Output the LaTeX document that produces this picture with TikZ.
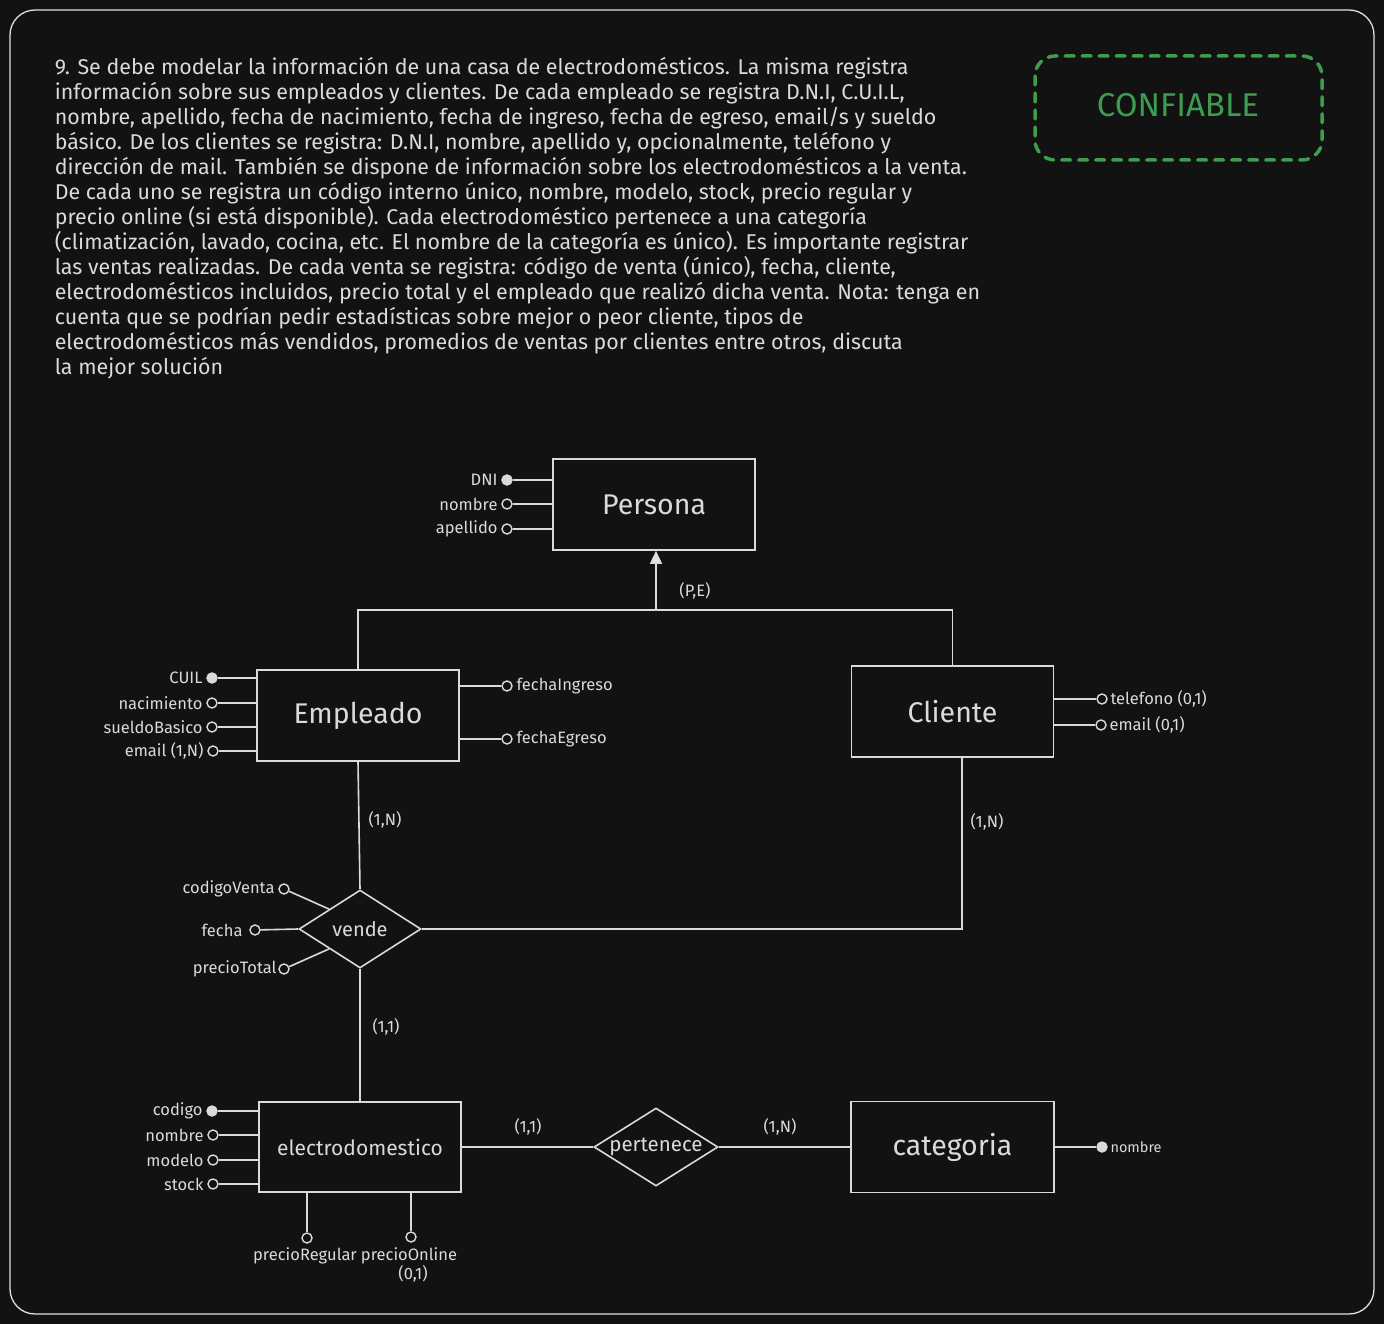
\documentclass[tikz,border=0pt]{standalone}
\usepackage{fontspec}
\setmainfont{Fira Sans}
\usetikzlibrary{arrows.meta,shapes.geometric,calc}
\definecolor{bg}{HTML}{121212}
\definecolor{ink}{HTML}{DADADA}
\definecolor{okgreen}{HTML}{3E9B4F}

\begin{document}
\begin{tikzpicture}[x=1pt,y=-1pt,line width=1.6pt,
  entity/.style={draw=ink,fill=bg,rectangle,minimum width=202pt,minimum height=91pt,
    inner sep=0pt,text=ink,font=\fontsize{28.5}{32}\selectfont},
  rel/.style={draw=ink,fill=bg,diamond,aspect=1.6,inner sep=0pt,text=ink},
  keyattr/.style={circle,draw=ink,fill=ink,inner sep=0pt,minimum size=10pt,line width=1.4pt},
  attr/.style={circle,draw=ink,fill=bg,inner sep=0pt,minimum size=10pt,line width=1.4pt},
  lbl/.style={text=ink,inner sep=3pt,font=\fontsize{16.5}{19}\selectfont},
  card/.style={text=ink,inner sep=0pt,font=\fontsize{16.5}{19}\selectfont},
  link/.style={draw=ink,line width=1.6pt}]

% canvas and outer frame
\fill[bg] (0,0) rectangle (1384,1324);
\useasboundingbox (0,0) rectangle (1384,1324);
\draw[ink!85,line width=1.3pt,rounded corners=25pt] (10,10) rectangle (1374,1314);

% statement
\node[anchor=north west,align=left,text=ink,inner sep=0pt,
  font=\fontsize{21.4}{25}\selectfont] (enunciado) at (54,57) {%
9. Se debe modelar la información de una casa de electrodomésticos. La misma registra\\
información sobre sus empleados y clientes. De cada empleado se registra D.N.I, C.U.I.L,\\
nombre, apellido, fecha de nacimiento, fecha de ingreso, fecha de egreso, email/s y sueldo\\
básico. De los clientes se registra: D.N.I, nombre, apellido y, opcionalmente, teléfono y\\
dirección de mail. También se dispone de información sobre los electrodomésticos a la venta.\\
De cada uno se registra un código interno único, nombre, modelo, stock, precio regular y\\
precio online (si está disponible). Cada electrodoméstico pertenece a una categoría\\
(climatización, lavado, cocina, etc. El nombre de la categoría es único). Es importante registrar\\
las ventas realizadas. De cada venta se registra: código de venta (único), fecha, cliente,\\
electrodomésticos incluidos, precio total y el empleado que realizó dicha venta. Nota: tenga en\\
cuenta que se podrían pedir estadísticas sobre mejor o peor cliente, tipos de\\
electrodomésticos más vendidos, promedios de ventas por clientes entre otros, discuta\\
la mejor solución};

% status badge
\draw[okgreen,line width=3.5pt,dash pattern=on 9pt off 8pt,line cap=round,rounded corners=20pt]
  (1035,56) rectangle (1322,160);
\node[text=okgreen,font=\fontsize{33}{36}\selectfont] (estado) at (1178,105) {CONFIABLE};

% entities
\node[entity] (per) at (654,504.5) {Persona};
\node[entity] (emp) at (358,715.5) {Empleado};
\node[entity] (cli) at (952.5,711.5) {Cliente};
\node[entity,minimum height=90pt,font=\fontsize{21}{24}\selectfont] (elec) at (360,1147) {electrodomestico};
\node[entity,minimum width=203pt] (cat) at (952.5,1147) {categoria};

% relationships
\node[rel,minimum width=122pt,minimum height=78pt,font=\fontsize{20}{23}\selectfont] (vende) at (360,929) {vende};
\node[rel,minimum width=124pt,minimum height=78pt,font=\fontsize{20.5}{23}\selectfont] (pert) at (656,1147) {pertenece};

% generalization Persona <- {Empleado, Cliente}
\coordinate (isa) at (656,610);
\draw[link] (emp.north) -- (emp.north |- isa) -- (cli.north |- isa) -- (cli.north);
\draw[link,-{Triangle[width=12pt,length=13pt,fill=ink!75]}] (isa) -- (per.south -| isa);
\node[card] (pe) at (695,591) {(P,E)};

% Persona attributes
\node[keyattr] (pdni) at (507,480) {};
\node[attr] (pnom) at (507,504) {};
\node[attr] (pape) at (507,529) {};
\draw[link] (pdni) -- (per.west |- pdni);
\draw[link] (pnom) -- (per.west |- pnom);
\draw[link] (pape) -- (per.west |- pape);
\node[lbl,anchor=east] at (pdni.west) {DNI};
\node[lbl,anchor=east] at (pnom.west) {nombre};
\node[lbl,anchor=east] at (pape.west) {apellido};

% Empleado attributes
\node[keyattr] (ecuil) at (212,678) {};
\node[attr] (enac) at (212,703) {};
\node[attr] (esue) at (212,727) {};
\node[attr] (email) at (213,751) {};
\node[attr] (eing) at (507,686) {};
\node[attr] (eegr) at (507,739) {};
\draw[link] (ecuil) -- (emp.west |- ecuil);
\draw[link] (enac) -- (emp.west |- enac);
\draw[link] (esue) -- (emp.west |- esue);
\draw[link] (email) -- (emp.west |- email);
\draw[link] (emp.east |- eing) -- (eing);
\draw[link] (emp.east |- eegr) -- (eegr);
\node[lbl,anchor=east] at (ecuil.west) {CUIL};
\node[lbl,anchor=east] at (enac.west) {nacimiento};
\node[lbl,anchor=east] at (esue.west) {sueldoBasico};
\node[lbl,anchor=east] at (email.west) {email (1,N)};
\node[lbl,anchor=west] at (eing.east) {fechaIngreso};
\node[lbl,anchor=west] at (eegr.east) {fechaEgreso};

% Cliente attributes
\node[attr] (ctel) at (1102,699) {};
\node[attr] (cmail) at (1101,725) {};
\draw[link] (cli.east |- ctel) -- (ctel);
\draw[link] (cli.east |- cmail) -- (cmail);
\node[lbl,anchor=west,inner sep=2pt] at (ctel.east) {telefono (0,1)};
\node[lbl,anchor=west,inner sep=2pt] at (cmail.east) {email (0,1)};

% vende connections
\coordinate (cbend) at (962,929);
\draw[link] (emp.south) -- (vende.north);
\draw[link] (cli.south -| cbend) -- (cbend) -- (vende.east);
\draw[link] (vende.south) -- (elec.north);
\node[card] (c1) at (385,820) {(1,N)};
\node[card] (c2) at (987,822) {(1,N)};
\node[card] (c3) at (386,1027) {(1,1)};

% vende attributes
\node[attr] (vcod) at (284,889) {};
\node[attr] (vfec) at (255,930) {};
\node[attr] (vpre) at (284,969) {};
\draw[link] (vcod) -- (vende.north west);
\draw[link] (vfec) -- (vende.west);
\draw[link] (vpre) -- (vende.south west);
\node[lbl,anchor=east] at (vcod.west) {codigoVenta};
\node[lbl,anchor=east,inner sep=6pt] at (vfec.west) {fecha};
\node[lbl,anchor=east,inner sep=1pt] at (vpre.west) {precioTotal};

% electrodomestico attributes
\node[keyattr] (dcod) at (212,1111) {};
\node[attr] (dnom) at (213,1135) {};
\node[attr] (dmod) at (213,1160) {};
\node[attr] (dsto) at (213,1184) {};
\node[attr] (dreg) at (307,1238) {};
\node[attr] (donl) at (411,1237) {};
\draw[link] (dcod) -- (elec.west |- dcod);
\draw[link] (dnom) -- (elec.west |- dnom);
\draw[link] (dmod) -- (elec.west |- dmod);
\draw[link] (dsto) -- (elec.west |- dsto);
\draw[link] (elec.south -| dreg) -- (dreg);
\draw[link] (elec.south -| donl) -- (donl);
\node[lbl,anchor=east] at (dcod.west) {codigo};
\node[lbl,anchor=east] at (dnom.west) {nombre};
\node[lbl,anchor=east] at (dmod.west) {modelo};
\node[lbl,anchor=east] at (dsto.west) {stock};
\node[lbl,anchor=north,inner sep=0pt] at (305,1247) {precioRegular};
\node[lbl,anchor=north,align=center,inner sep=0pt,font=\fontsize{16.5}{19}\selectfont] at (409,1247) {precioOnline\\\hspace*{8pt}(0,1)};

% pertenece connections
\draw[link] (elec.east) -- (pert.west);
\draw[link] (pert.east) -- (cat.west);
\node[card] (c4) at (528,1127) {(1,1)};
\node[card] (c5) at (780,1127) {(1,N)};

% categoria attribute
\node[keyattr] (knom) at (1102,1147) {};
\draw[link] (cat.east |- knom) -- (knom);
\node[lbl,anchor=west,inner sep=2pt,font=\fontsize{14.5}{17}\selectfont] at (knom.east) {nombre};

\end{tikzpicture}
\end{document}
